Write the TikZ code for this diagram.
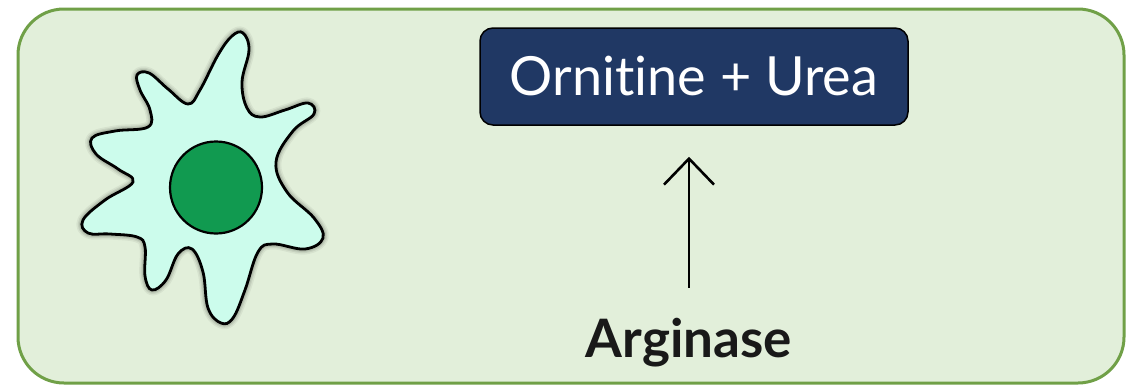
\documentclass[tikz,border=0pt]{standalone}
\usepackage{fontspec}
\setmainfont{Lato}[Ligatures=NoCommon]
\usetikzlibrary{arrows.meta}

\definecolor{panelfill}{HTML}{E2EFDA}
\definecolor{panelline}{HTML}{70A047}
\definecolor{navybox}{HTML}{203864}
\definecolor{cellbody}{HTML}{CCFCEC}
\definecolor{nucleus}{HTML}{119A50}

\tikzset{
  panel/.style={draw=panelline, fill=panelfill, line width=3pt, rounded corners=46pt},
  product/.style={draw=black, fill=navybox, line width=1.5pt, rounded corners=13pt,
    minimum width=428pt, minimum height=97pt, inner sep=0pt,
    text=white, font=\fontsize{54}{60}\selectfont},
  enzyme/.style={inner sep=0pt, text=black!90, font=\bfseries\fontsize{53}{60}\selectfont},
  reaction/.style={line width=2.6pt, -{Straight Barb[length=26pt,width=50pt,line width=2.6pt]}},
  membrane/.style={draw=black, fill=cellbody, line width=2.8pt},
  halo/.style={draw=black, opacity=#1, line join=round},
  nucleusstyle/.style={circle, draw=black, fill=nucleus, line width=2.2pt,
    minimum size=92pt, inner sep=0pt}
}

\begin{document}
\begin{tikzpicture}[x=1pt, y=-1pt]
  \useasboundingbox (0,0) rectangle (1127,388);
  \fill[white] (0,0) rectangle (1127,388);

  % green panel
  \draw[panel] (18,9) rectangle (1124,383);

  % macrophage outline
  \def\cellpath{plot[smooth cycle, tension=0.65] coordinates {
    (243,33) (249,50) (242,82) (247,108) (260,117) (285,110) (308,103)
    (314,114) (293,131) (276,162) (287,192) (314,218) (323,238) (305,249)
    (273,244) (258,252) (245,290) (233,318) (221,323) (208,308) (203,272)
    (192,249) (178,254) (166,280) (152,290) (145,276) (145,247) (137,237)
    (110,234) (88,233) (83,220) (105,200) (133,182) (118,169) (96,154)
    (92,138) (115,131) (148,127) (150,110) (140,90) (137,75) (149,73)
    (168,89) (188,104) (200,90) (218,55) (232,36)}}
  % soft shadow around the membrane
  \draw[halo=0.05, line width=11pt] \cellpath;
  \draw[halo=0.07, line width=8pt] \cellpath;
  \draw[halo=0.09, line width=5.5pt] \cellpath;
  \draw[membrane] \cellpath;
  \node[nucleusstyle] (nuc) at (216,187.5) {};

  % reaction
  \node[product] (prod) at (694,76.5) {Ornitine + Urea};
  \node[enzyme, anchor=base] (arg) at (689,357) {Arginase};
  \draw[reaction, shorten <=30pt, shorten >=31pt] (arg.north) -- (arg.north |- prod.south);
\end{tikzpicture}
\end{document}
